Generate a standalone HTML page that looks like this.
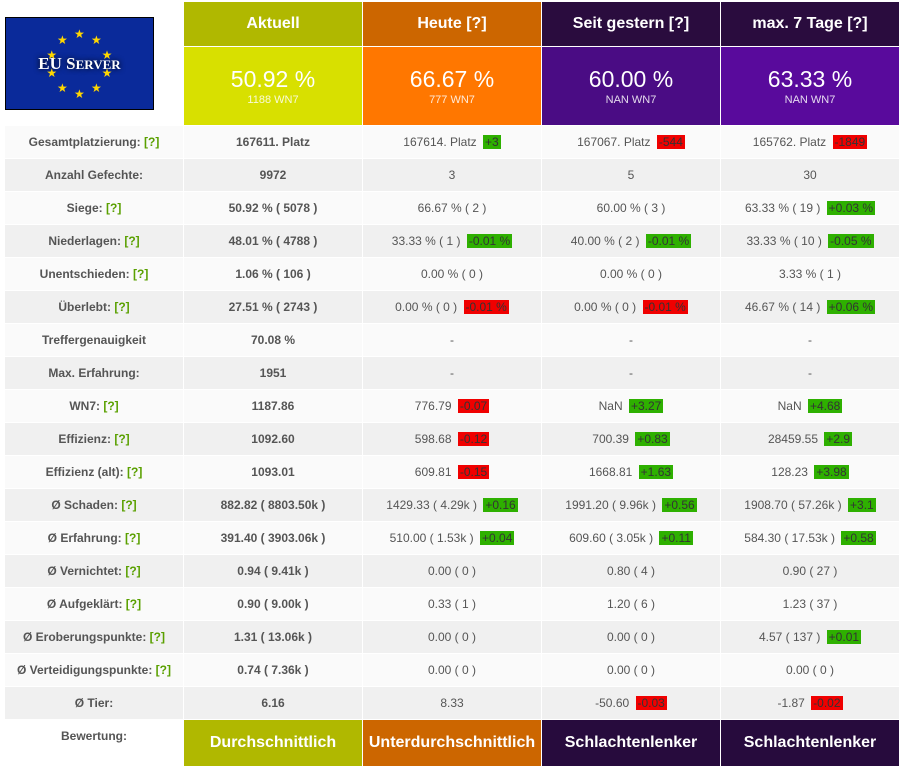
<!DOCTYPE html>
<html><head><meta charset="utf-8">
<style>
body{margin:0;width:899px;height:768px;background:#fff;font-family:"Liberation Sans",Arial,sans-serif;position:relative;overflow:hidden}
.c{position:absolute;box-sizing:border-box;display:flex;align-items:center;justify-content:center;text-align:center;white-space:nowrap}
.cell{font-size:12px;font-weight:bold;color:#555}
.q{color:#5aa000}
.b{display:inline-block;padding:0 2px;margin-left:3px;font-weight:normal;color:#333;line-height:14px}
.g{background:#2eb000}.r{background:#f00000}
.flag{position:absolute;left:5px;top:17px;width:149px;height:93px;background:#0a2a9a;border:1px solid #000;box-sizing:border-box}
.star{position:absolute;color:#ffd700;font-size:12px;line-height:12px}
.eu{position:absolute;left:0;top:36px;width:100%;text-align:center;font-family:"Liberation Serif",serif;font-weight:bold;color:#fff;font-size:17px;text-shadow:0 0 6px #000}
</style></head><body>
<div class="flag" id="flag"><div class="eu">EU S<span style="font-size:13px">ERVER</span></div></div>
<div id="t"></div>
<script>
const colX=[5,184,363,542,721], colW=[178,178,178,178,178];
const heads=["Aktuell","Heute [?]","Seit gestern [?]","max. 7 Tage [?]"];
const headBg=["#b0b800","#cc6600","#2a0c3e","#2a0c3e"];
const bodyBg=["#d8e000","#ff7700","#4a0c84","#590a9c"];
const bigVals=["50.92 %","66.67 %","60.00 %","63.33 %"];
const subVals=["1188 WN7","777 WN7","NAN WN7","NAN WN7"];
const ratings=["Durchschnittlich","Unterdurchschnittlich","Schlachtenlenker","Schlachtenlenker"];
const rateBg=["#b0b800","#cc6600","#270b3d","#270b3d"];
const labels=["Gesamtplatzierung:|","Anzahl Gefechte:","Siege:|","Niederlagen:|","Unentschieden:|","Überlebt:|","Treffergenauigkeit","Max. Erfahrung:","WN7:|","Effizienz:|","Effizienz (alt):|","Ø Schaden:|","Ø Erfahrung:|","Ø Vernichtet:|","Ø Aufgeklärt:|","Ø Eroberungspunkte:|","Ø Verteidigungspunkte:|","Ø Tier:"];
const values=[
["167611. Platz","167614. Platz|g+3","167067. Platz|r-544","165762. Platz|r-1849"],
["9972","3","5","30"],
["50.92 % ( 5078 )","66.67 % ( 2 )","60.00 % ( 3 )","63.33 % ( 19 )|g+0.03 %"],
["48.01 % ( 4788 )","33.33 % ( 1 )|g-0.01 %","40.00 % ( 2 )|g-0.01 %","33.33 % ( 10 )|g-0.05 %"],
["1.06 % ( 106 )","0.00 % ( 0 )","0.00 % ( 0 )","3.33 % ( 1 )"],
["27.51 % ( 2743 )","0.00 % ( 0 )|r-0.01 %","0.00 % ( 0 )|r-0.01 %","46.67 % ( 14 )|g+0.06 %"],
["70.08 %","-","-","-"],
["1951","-","-","-"],
["1187.86","776.79|r-0.07","NaN|g+3.27","NaN|g+4.68"],
["1092.60","598.68|r-0.12","700.39|g+0.83","28459.55|g+2.9"],
["1093.01","609.81|r-0.15","1668.81|g+1.63","128.23|g+3.98"],
["882.82 ( 8803.50k )","1429.33 ( 4.29k )|g+0.16","1991.20 ( 9.96k )|g+0.56","1908.70 ( 57.26k )|g+3.1"],
["391.40 ( 3903.06k )","510.00 ( 1.53k )|g+0.04","609.60 ( 3.05k )|g+0.11","584.30 ( 17.53k )|g+0.58"],
["0.94 ( 9.41k )","0.00 ( 0 )","0.80 ( 4 )","0.90 ( 27 )"],
["0.90 ( 9.00k )","0.33 ( 1 )","1.20 ( 6 )","1.23 ( 37 )"],
["1.31 ( 13.06k )","0.00 ( 0 )","0.00 ( 0 )","4.57 ( 137 )|g+0.01"],
["0.74 ( 7.36k )","0.00 ( 0 )","0.00 ( 0 )","0.00 ( 0 )"],
["6.16","8.33","-50.60|r-0.03","-1.87|r-0.02"]];
const T=document.getElementById('t');
function mk(x,y,w,h,bg,html,cls,name,inter){const d=document.createElement('div');d.className='c '+(cls||'');
d.style.cssText+=`left:${x}px;top:${y}px;width:${w}px;height:${h}px;background:${bg};`;d.innerHTML=html;


T.appendChild(d);return d;}
for(let i=0;i<4;i++){
 const x=colX[i+1],w=colW[i+1];
 const h=mk(x,2,w,44,headBg[i],heads[i],'','header-'+heads[i].split(' ')[0].toLowerCase().replace('.',''),false);
 h.style.cssText+='color:#fff;font-weight:bold;font-size:16px;';
 const b=mk(x,47,w,78,bodyBg[i],`<div><div style="font-size:23px;line-height:26px">${bigVals[i]}</div><div style="font-size:11px;margin-top:2px;opacity:.85">${subVals[i]}</div></div>`,'','winrate-'+i,false);
 b.style.color='#fff';
 const r=mk(x,720,w,46,rateBg[i],ratings[i],'','rating-'+i,false);
 r.style.cssText+='color:#fff;font-weight:bold;font-size:16px;';
}
mk(colX[0],720,colW[0],46,'#fff','Bewertung:','cell','rating-label',false).style.alignItems='flex-start';
T.lastChild.style.paddingTop='9px';
for(let r=0;r<labels.length;r++){
 const y=126+r*33, bg=r%2?'#f0f0f0':'#fafafa';
 let lb='<div>'+labels[r].replace('|',' <span class="q">[?]</span>')+'</div>';
 mk(colX[0],y,colW[0],32,bg,lb,'cell','row-label-'+r,false);
 for(let c=0;c<4;c++){
  const [v,bd]=values[r][c].split('|');
  let html='<div>'+v; if(bd) html+=` <span class="b ${bd[0]=='g'?'g':'r'}">${bd.slice(1)}</span>`;
  html+='</div>';
  const w=colW[c+1]; const d=mk(colX[c+1],y,w,32,bg,html,'cell','row-'+r+'-col-'+c,false);
  if(c>0) d.style.fontWeight='normal';
 }
}
const fl=document.getElementById('flag');
for(let k=0;k<10;k++){const a=k*Math.PI/5-Math.PI/2;const s=document.createElement('span');s.className='star';s.textContent='★';
s.style.left=(68+Math.cos(a)*29)+'px';s.style.top=(40+Math.sin(a)*30)+'px';


fl.appendChild(s);}
</script>
</body></html>
